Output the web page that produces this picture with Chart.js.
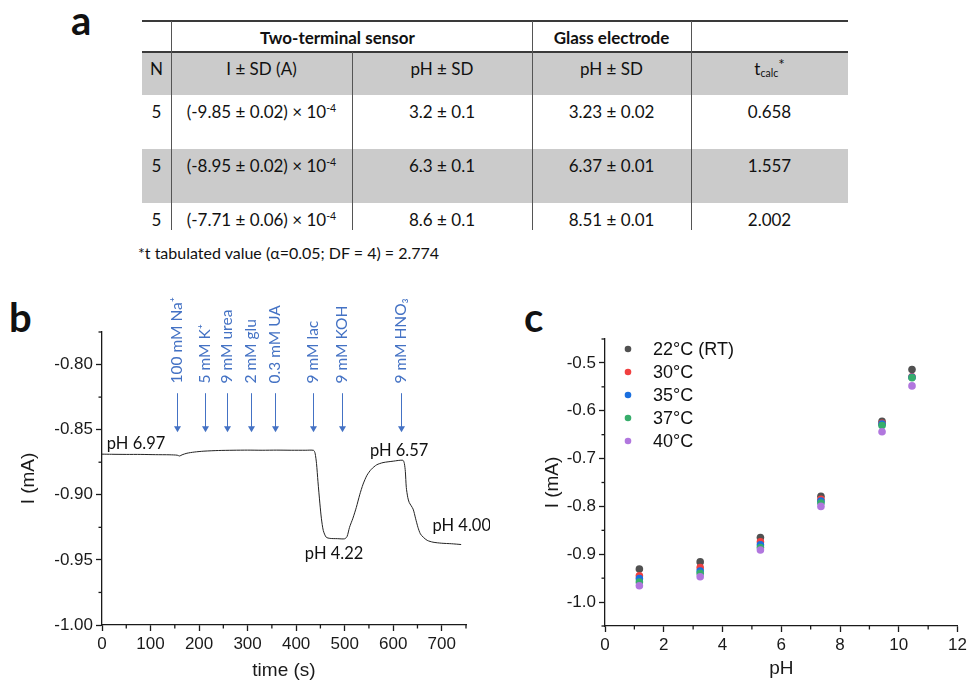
<!DOCTYPE html>
<html>
<head>
<meta charset="utf-8">
<script src="https://cdn.jsdelivr.net/npm/chart.js@4.4.1/dist/chart.umd.min.js"></script>
<style>
    html, body { margin: 0; padding: 0; background: #fff; }
    #page { position: relative; width: 970px; height: 682px; overflow: hidden; font-family: Lato, "Open Sans", sans-serif; color: #111; }
    .letter { position: absolute; font-weight: bold; font-size: 40px; line-height: 40px; }
    .band { position: absolute; background: #cbcbcb; }
    .rule { position: absolute; background: #3a3a3a; }
    .cell { position: absolute; text-align: center; font-size: 17px; line-height: 20px; white-space: nowrap; }
    .cell sup { font-size: 0.62em; vertical-align: 0.55em; line-height: 0; }
    .cell sup.star { font-size: 0.9em; vertical-align: 0.35em; }
    .cell sub { font-size: 0.62em; vertical-align: -0.2em; line-height: 0; }
    #note { position: absolute; left: 138px; top: 243px; font-size: 16px; line-height: 20px; white-space: nowrap; }
    canvas { position: absolute; }
</style>
</head>
<body>
<div id="page">
    <div class="letter" style="left:71px; top:0px;">a</div>
    <div class="letter" style="left:9px; top:297px;">b</div>
    <div class="letter" style="left:524px; top:297px;">c</div>
    <div id="tableA"></div>
    <div id="note">*t tabulated value (α=0.05; DF = 4) = 2.774</div>
    <canvas id="chartB" width="490" height="392" style="left:0; top:290px;"></canvas>
    <canvas id="chartC" width="480" height="392" style="left:490px; top:290px;"></canvas>
</div>

<script>
// ---- panel a: table values ----
const groupHeaders = ['', 'Two-terminal sensor', 'Glass electrode', ''];
const columnHeaders = ['N', 'I ± SD (A)', 'pH ± SD', 'pH ± SD', 't<sub>calc</sub><sup class="star">*</sup>'];
const nValues = ['5', '5', '5'];
const sensorCurrent = ['(-9.85 ± 0.02) × 10<sup>-4</sup>', '(-8.95 ± 0.02) × 10<sup>-4</sup>', '(-7.71 ± 0.06) × 10<sup>-4</sup>'];
const sensorPH = ['3.2 ± 0.1', '6.3 ± 0.1', '8.6 ± 0.1'];
const glassPH = ['3.23 ± 0.02', '6.37 ± 0.01', '8.51 ± 0.01'];
const tCalc = ['0.658', '1.557', '2.002'];

// ---- panel b: current vs time ----
const bTimes = [0, 20, 50, 80, 110, 140, 155, 160, 165, 175, 190, 210, 240, 270, 300, 330, 360, 390, 420, 436,
    439, 442, 445, 449, 452, 456, 462, 470, 485, 500, 505, 510, 517, 524, 531, 538, 546, 555, 566, 579, 600, 620,
    623, 625, 627, 630, 633, 641, 646, 651, 656, 662, 670, 682, 700, 720, 740];
const bCurrents = [-0.8688, -0.8689, -0.8690, -0.8690, -0.8692, -0.8693, -0.8696, -0.8702, -0.8693, -0.8681, -0.8672,
    -0.8665, -0.8660, -0.8658, -0.8657, -0.8658, -0.8657, -0.8658, -0.8658, -0.8659,
    -0.868, -0.876, -0.890, -0.907, -0.918, -0.9275, -0.9326, -0.9335, -0.9337, -0.9338, -0.932, -0.925, -0.918,
    -0.9097, -0.900, -0.8918, -0.885, -0.8804, -0.877, -0.8753, -0.8742, -0.8735,
    -0.876, -0.882, -0.8944, -0.902, -0.9059, -0.911, -0.918, -0.925, -0.930, -0.9326, -0.935, -0.9364, -0.9372,
    -0.9376, -0.9382];
const bXTicks = [0, 100, 200, 300, 400, 500, 600, 700];
const bYTicks = [-1.00, -0.95, -0.90, -0.85, -0.80];
const additionTimes = [154, 212, 257, 308, 356, 435, 494, 617];
const additionLabels = ['100 mM Na⁺', '5 mM K⁺', '9 mM urea', '2 mM glu', '0.3 mM UA', '9 mM lac', '9 mM KOH', '9 mM HNO₃'];
const phLabels = ['pH 6.97', 'pH 4.22', 'pH 6.57', 'pH 4.00'];
const phLabelTimes = [10, 418, 552, 681];
const phLabelCurrents = [-0.861, -0.945, -0.8664, -0.9237];

// ---- panel c: current vs pH at several temperatures ----
const cPH = [1.17, 3.24, 5.29, 7.35, 9.43, 10.45];
const cTemps = ['22°C (RT)', '30°C', '35°C', '37°C', '40°C'];
const cI22 = [-0.931, -0.916, -0.865, -0.779, -0.622, -0.514];
const cI30 = [-0.945, -0.928, -0.874, -0.785, -0.626, -0.529];
const cI35 = [-0.951, -0.935, -0.880, -0.789, -0.628, -0.530];
const cI37 = [-0.958, -0.940, -0.886, -0.793, -0.631, -0.531];
const cI40 = [-0.966, -0.947, -0.891, -0.800, -0.644, -0.548];
const cXTicks = [0, 2, 4, 6, 8, 10, 12];
const cYTicks = [-1.0, -0.9, -0.8, -0.7, -0.6, -0.5];
const cColors = ['#515151', '#F14040', '#1A6FDF', '#37AD6B', '#B177DE'];

// ---- build table ----
function buildTable() {
    const box = document.getElementById('tableA');
    const colX = [142, 171, 352, 532, 691, 848];
    const rowY = [21, 52, 95, 149, 203, 230];
    const add = (cls, css, html) => {
        const d = document.createElement('div');
        d.className = cls;
        d.style.cssText = css;
        if (html) d.innerHTML = html;
        box.appendChild(d);
    };
    add('band', `left:${colX[0]}px;top:${rowY[1]}px;width:${colX[5] - colX[0]}px;height:${rowY[2] - rowY[1]}px`);
    add('band', `left:${colX[0]}px;top:${rowY[3]}px;width:${colX[5] - colX[0]}px;height:${rowY[4] - rowY[3]}px`);

    add('cell', `left:${colX[1]}px;width:${colX[3] - colX[1] - 28}px;top:${rowY[0] + 7}px;font-weight:bold`, groupHeaders[1]);
    add('cell', `left:${colX[3]}px;width:${colX[4] - colX[3]}px;top:${rowY[0] + 7}px;font-weight:bold`, groupHeaders[2]);

    const rows = [columnHeaders];
    for (let i = 0; i < nValues.length; i++) {
        rows.push([nValues[i], sensorCurrent[i], sensorPH[i], glassPH[i], tCalc[i]]);
    }
    rows.forEach((r, ri) => {
        r.forEach((txt, ci) => {
            add('cell', `left:${colX[ci]}px;width:${colX[ci + 1] - colX[ci]}px;top:${rowY[ri + 1] + 7}px`, txt);
        });
    });

    add('rule', `left:${colX[0]}px;top:${rowY[0] - 1}px;width:${colX[5] - colX[0]}px;height:1.5px`);
    add('rule', `left:${colX[0]}px;top:${rowY[1] - 1}px;width:${colX[5] - colX[0]}px;height:1.5px`);
    add('rule', `left:${colX[1]}px;top:${rowY[0]}px;width:1px;height:${rowY[5] - rowY[0]}px;background:#555`);
    add('rule', `left:${colX[2]}px;top:${rowY[1]}px;width:1px;height:${rowY[5] - rowY[1]}px;background:#555`);
    add('rule', `left:${colX[3]}px;top:${rowY[0]}px;width:1px;height:${rowY[5] - rowY[0]}px;background:#555`);
    add('rule', `left:${colX[4]}px;top:${rowY[0]}px;width:1px;height:${rowY[5] - rowY[0]}px;background:#555`);
}
buildTable();

// ---- shared chart bits ----
const axisColor = '#1a1a1a';
const axisFont = {family: '"Liberation Sans", Arial, sans-serif', size: 17};
const titleFont = {family: '"Liberation Sans", Arial, sans-serif', size: 19};

function axis(tickList, min, max, digits, fitSize, titleText, titlePad) {
    return {
        type: 'linear',
        min: min,
        max: max,
        afterBuildTicks: s => { s.ticks = tickList.map(v => ({value: v})); },
        afterFit: s => {
            if (s.isHorizontal()) s.height = fitSize; else s.width = fitSize;
        },
        ticks: {
            autoSkip: false,
            maxRotation: 0,
            color: axisColor,
            font: axisFont,
            padding: 3,
            callback: v => v.toFixed(digits)
        },
        grid: {drawOnChartArea: false, drawTicks: true, tickLength: 6, tickColor: axisColor, tickWidth: 1.3},
        border: {display: true, color: axisColor, width: 1.3},
        title: {display: true, text: titleText, color: axisColor, font: titleFont, padding: titlePad}
    };
}

const minorTicks = {
    id: 'minorTicks',
    afterDraw(chart, args, opts) {
        const ctx = chart.ctx;
        const area = chart.chartArea;
        ctx.save();
        ctx.strokeStyle = axisColor;
        ctx.lineWidth = 1.3;
        for (const id of ['x', 'y']) {
            const s = chart.scales[id];
            const step = opts[id];
            if (!step) continue;
            const v0 = s.ticks[0].value;
            for (let k = Math.ceil((s.min - v0) / step - 1e-9); v0 + k * step <= s.max + 1e-9; k++) {
                if (k % 2 === 0) continue;
                const p = s.getPixelForValue(v0 + k * step);
                ctx.beginPath();
                if (s.isHorizontal()) {
                    ctx.moveTo(p, area.bottom);
                    ctx.lineTo(p, area.bottom + 3.5);
                } else {
                    ctx.moveTo(area.left, p);
                    ctx.lineTo(area.left - 3.5, p);
                }
                ctx.stroke();
            }
        }
        ctx.restore();
    }
};

// ---- panel b ----
const annotateB = {
    id: 'annotateB',
    afterDraw(chart, args, opts) {
        const {ctx, scales: {x, y}} = chart;
        ctx.save();
        ctx.strokeStyle = opts.arrowColor;
        ctx.fillStyle = opts.arrowColor;
        ctx.lineWidth = 1;
        ctx.font = '15.5px Lato, "Open Sans", sans-serif';
        additionTimes.forEach((t, i) => {
            const px = Math.round(x.getPixelForValue(t)) + 0.5;
            const y0 = y.getPixelForValue(opts.arrowFrom);
            const y1 = y.getPixelForValue(opts.arrowTo);
            ctx.beginPath();
            ctx.moveTo(px, y0);
            ctx.lineTo(px, y1 - 4);
            ctx.stroke();
            ctx.beginPath();
            ctx.moveTo(px - 3.5, y1 - 6);
            ctx.lineTo(px + 3.5, y1 - 6);
            ctx.lineTo(px, y1);
            ctx.closePath();
            ctx.fill();
            ctx.save();
            ctx.translate(px - 1, y.getPixelForValue(opts.labelFrom));
            ctx.rotate(-Math.PI / 2);
            ctx.textAlign = 'left';
            ctx.textBaseline = 'middle';
            ctx.fillText(additionLabels[i], 0, 0);
            ctx.restore();
        });
        ctx.fillStyle = '#111';
        ctx.font = '16.5px Lato, "Open Sans", sans-serif';
        ctx.textAlign = 'left';
        ctx.textBaseline = 'middle';
        phLabels.forEach((txt, i) => {
            ctx.fillText(txt, x.getPixelForValue(phLabelTimes[i]), y.getPixelForValue(phLabelCurrents[i]));
        });
        ctx.restore();
    }
};

new Chart(document.getElementById('chartB'), {
    type: 'line',
    data: {
        datasets: [{
            label: 'I',
            data: bTimes.map((t, i) => ({x: t, y: bCurrents[i]})),
            borderColor: '#222',
            borderWidth: 1,
            pointRadius: 0,
            tension: 0.25,
            fill: false
        }]
    },
    options: {
        responsive: false,
        animation: false,
        layout: {padding: {left: 0, top: 42, right: 24, bottom: 0}},
        scales: {
            x: axis(bXTicks, 0, 750, 0, 57, 'time (s)', {top: 0, bottom: 0}),
            y: axis(bYTicks, -1.0, -0.775, 2, 102, 'I (mA)', {top: 17, bottom: 0})
        },
        plugins: {
            legend: {display: false},
            tooltip: {enabled: false},
            minorTicks: {x: 50, y: 0.025},
            annotateB: {arrowColor: '#4472C4', arrowFrom: -0.822, arrowTo: -0.852, labelFrom: -0.8145}
        }
    },
    plugins: [minorTicks, annotateB]
});

// ---- panel c ----
const cSeries = [cI22, cI30, cI35, cI37, cI40];

const legendC = {
    id: 'legendC',
    afterDraw(chart) {
        const {ctx, chartArea} = chart;
        ctx.save();
        ctx.font = '18px "Liberation Sans", Arial, sans-serif';
        ctx.textAlign = 'left';
        ctx.textBaseline = 'middle';
        chart.data.datasets.forEach((ds, i) => {
            const yy = chartArea.top + 10 + i * 23;
            ctx.fillStyle = ds.backgroundColor;
            ctx.beginPath();
            ctx.arc(chartArea.left + 23, yy, 3.3, 0, Math.PI * 2);
            ctx.fill();
            ctx.fillStyle = '#111';
            ctx.fillText(ds.label, chartArea.left + 48, yy + 1);
        });
        ctx.restore();
    }
};

new Chart(document.getElementById('chartC'), {
    type: 'scatter',
    data: {
        datasets: cTemps.map((name, i) => ({
            label: name,
            data: cPH.map((p, j) => ({x: p, y: cSeries[i][j]})),
            backgroundColor: cColors[i],
            borderWidth: 0,
            pointRadius: 3.8,
            order: cTemps.length - i
        }))
    },
    options: {
        responsive: false,
        animation: false,
        layout: {padding: {left: 0, top: 49, right: 10, bottom: 0}},
        scales: {
            x: axis(cXTicks, 0, 12, 0, 56, 'pH', {top: 0, bottom: 2}),
            y: axis(cYTicks, -1.05, -0.45, 1, 115, 'I (mA)', {top: 51, bottom: 0})
        },
        plugins: {
            legend: {display: false},
            tooltip: {enabled: false},
            minorTicks: {x: 1, y: 0.05}
        }
    },
    plugins: [minorTicks, legendC]
});
</script>
</body>
</html>
